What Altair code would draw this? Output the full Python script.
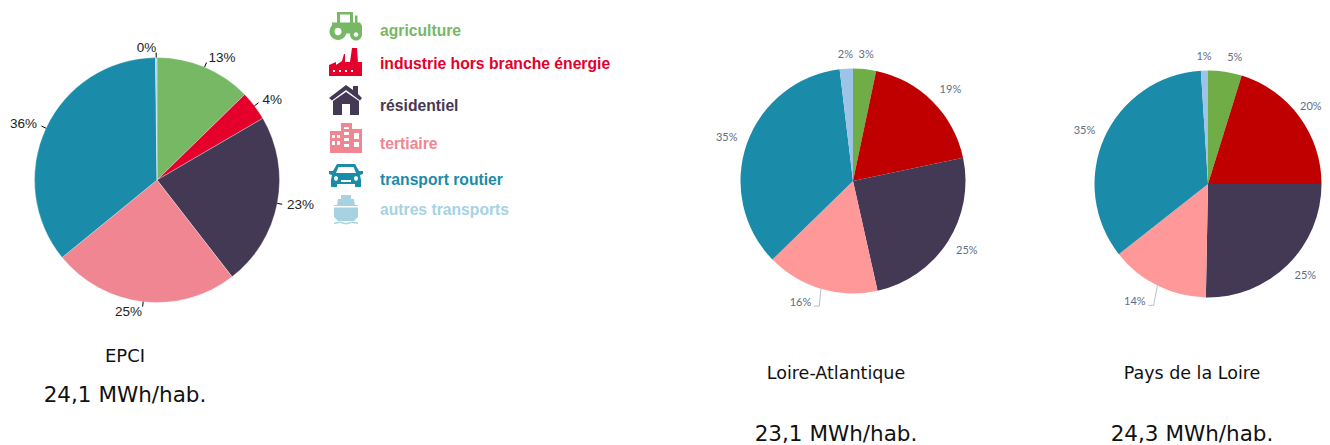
import math
import altair as alt
import pandas as pd

# ---------- data ----------
SECTORS = ["agriculture", "industrie hors branche énergie", "résidentiel",
           "tertiaire", "transport routier", "autres transports"]
EPCI_VALUES = [12.7, 3.9, 22.9, 24.6, 35.7, 0.2]
LA_VALUES = [3.3, 18.4, 24.8, 16.2, 35.4, 1.9]
PDL_VALUES = [4.8, 20.2, 25.3, 14.1, 34.6, 1.0]
EPCI_LABELS = ["13%", "4%", "23%", "25%", "36%", "0%"]
LA_LABELS = ["3%", "19%", "25%", "16%", "35%", "2%"]
PDL_LABELS = ["5%", "20%", "25%", "14%", "35%", "1%"]
EPCI_COLORS = ["#77b865", "#e4002b", "#443955", "#f08692", "#1a8ca9", "#a6d2e2"]
REGION_COLORS = ["#70ad47", "#c00000", "#443955", "#ff9999", "#1a8ca9", "#9dc3e6"]
CAPTION_NAMES = ["EPCI", "Loire-Atlantique", "Pays de la Loire"]
CAPTION_VALUES = ["24,1 MWh/hab.", "23,1 MWh/hab.", "24,3 MWh/hab."]

# ---------- layout (page pixels) ----------
W, H = 1314, 437
SX = alt.Scale(domain=[8, 8 + W], range=[0, W], nice=False, zero=False)
SY = alt.Scale(domain=[8, 8 + H], range=[0, H], nice=False, zero=False)
THETA = alt.Scale(domain=[0, 100], range=[0, 2 * math.pi])
X = lambda f: alt.X(f, type="quantitative", scale=SX, axis=None)
Y = lambda f: alt.Y(f, type="quantitative", scale=SY, axis=None)

PIES = [
    dict(v=EPCI_VALUES, l=EPCI_LABELS, c=EPCI_COLORS, cx=157, cy=180, r=122.5,
         kind="epci", elbow=0, shift=0),
    dict(v=LA_VALUES, l=LA_LABELS, c=REGION_COLORS, cx=853, cy=181, r=112.5,
         kind="region", elbow=18, shift=3.5),
    dict(v=PDL_VALUES, l=PDL_LABELS, c=REGION_COLORS, cx=1208, cy=184, r=113.5,
         kind="region", elbow=22, shift=6),
]
CAPTION_X = [125, 836, 1192]
NAME_Y = [357, 374, 374]
VALUE_Y = [396, 435, 435]
NAME_SIZE = [18, 17.5, 17.5]
VALUE_SIZE = 21.5
LEGEND_TEXT_X = 380
LEGEND_SIZE = 15.7
LEGEND_Y = [31, 64, 106, 144, 180, 210]
ICON_BOX = 34
ICON_TOPLEFT = [(329, 8.5), (329, 45), (329, 83), (329, 121), (329, 158), (329, 193)]
RIGHT_EDGE = 1322  # the canvas stops here: labels are kept inside it


def P(*pts):
    s = ""
    for i, (x, y) in enumerate(pts):
        s += f"{'M' if i == 0 else 'L'}{(x - 17) / 17:.3f},{(y - 17) / 17:.3f}"
    return s + "Z"


def R(x0, y0, x1, y1):
    return P((x0, y0), (x1, y0), (x1, y1), (x0, y1))


def C(cx, cy, r):
    a = r / 17
    x, y = (cx - 17) / 17, (cy - 17) / 17
    return (f"M{x - a:.3f},{y:.3f}A{a:.3f},{a:.3f} 0 1,0 {x + a:.3f},{y:.3f}"
            f"A{a:.3f},{a:.3f} 0 1,0 {x - a:.3f},{y:.3f}Z")


WHITE = "#ffffff"
ICONS = [
    [  # tractor
        (0, R(8, 3.5, 24, 6) + R(8, 3.5, 11, 15) + R(21, 3.5, 24, 15) + R(26, 7, 28.5, 15)),
        (0, P((3, 14), (31, 14), (33, 17), (33, 25), (3, 25))),
        (0, C(9, 23, 8.5)),
        (0, C(27, 26, 6)),
        (1, C(9, 23, 3.5)),
        (1, C(27, 26, 2.3)),
    ],
    [  # factory
        (0, P((0, 31), (0, 20), (7, 17), (7, 20), (13, 16), (15, 9), (16, 9), (16, 17),
              (21, 17), (23, 3), (28, 3), (29, 17), (33, 17), (33, 31))),
        (1, R(4, 25, 6, 27) + R(10, 25, 12, 27) + R(16, 25, 18, 27) + R(22, 25, 24, 27)),
    ],
    [  # house
        (0, P((0, 15), (17, 2), (24, 7), (24, 3), (29, 3), (29, 11), (33, 15),
              (31, 17.5), (17, 7), (3, 17.5))),
        (0, P((4, 18), (17, 9), (30, 18), (30, 32), (4, 32))),
        (1, R(13, 21, 21, 32)),
    ],
    [  # buildings
        (0, R(1, 10, 13, 32) + R(12, 2, 23, 32) + R(22, 8, 33, 32)),
        (1, R(3, 14, 6, 17) + R(8, 14, 11, 17) + R(3, 20, 6, 24) + R(8, 20, 11, 24)),
        (1, R(15, 6, 20, 8) + R(15, 11, 20, 14) + R(15, 17, 20, 20) + R(15, 23, 20, 26)),
        (1, R(25, 12, 30, 18) + R(25, 21, 30, 26)),
    ],
    [  # car
        (0, P((8, 6), (26, 6), (30, 13), (34, 13), (34, 16), (31, 17), (32, 22), (32, 29),
              (26, 29), (26, 26), (8, 26), (8, 29), (2, 29), (2, 22), (3, 17), (0, 16), (0, 13), (4, 13))),
        (1, P((9.5, 9), (24.5, 9), (27, 15), (7, 15))),
        (1, C(7, 20.5, 2) + R(12, 22, 22, 24)),
        (1, C(27, 20.5, 2)),
    ],
    [  # ship
        (0, R(12, 2, 22, 6) + P((9, 6), (25, 6), (26, 13), (8, 13))),
        (0, P((5, 12), (29, 12), (29, 24), (25, 28), (9, 28), (5, 24))),
        (1, R(5, 13, 29, 14.5)),
        (0, P((5, 29.5), (11, 28.5), (17, 30), (23, 28.5), (29, 29.5), (29, 31), (23, 30), (17, 31.5), (11, 30), (5, 31))),
    ],
]

LATERAL = "#626d86"
LEADER = "#b4bfd2"

# ---------- tables ----------
arc_layers, tick_rows, label_rows = [], [], []
for pie in PIES:
    rows = [dict(o=i, v=v, color=pie["c"][i]) for i, v in enumerate(pie["v"])]
    seam = 0.3 if pie["kind"] == "epci" else 0
    arc_layers.append(
        alt.Chart(pd.DataFrame(rows))
        .mark_arc(radius=pie["r"], stroke="#ffffff", strokeWidth=seam)
        .encode(
            theta=alt.Theta("v:Q", stack=True, scale=THETA),
            order=alt.Order("o:Q"),
            color=alt.Color("color:N", scale=None),
            x=alt.value(pie["cx"] - 8),
            y=alt.value(pie["cy"] - 8),
        )
    )
    cum = 0
    for i, v in enumerate(pie["v"]):
        mid = math.radians((cum + v / 2) * 3.6)
        cum += v
        s, c = math.sin(mid), math.cos(mid)
        cx, cy, r = pie["cx"], pie["cy"], pie["r"]
        if pie["kind"] == "epci":
            tick_rows.append(dict(x=cx + r * s, y=cy - r * c, x2=cx + (r + 5) * s,
                                  y2=cy - (r + 5) * c, color="#000000"))
            d = r + 10
            align = "left" if s > 0 else "right"
            label_rows.append(dict(x=cx + d * s, y=cy - d * c, t=pie["l"][i], align=align,
                                   font="Liberation Sans", size=13.5, color="#222222"))
        else:
            if i == 3:  # tertiary label hangs on an elbow leader
                ex = cx + (r + pie["elbow"]) * s + pie["shift"]
                ey = cy - (r + pie["elbow"]) * c
                tick_rows.append(dict(x=cx + r * s, y=cy - r * c, x2=ex, y2=ey, color=LEADER))
                tick_rows.append(dict(x=ex, y=ey, x2=ex - 5.5, y2=ey, color=LEADER))
                label_rows.append(dict(x=ex - 8, y=ey - 3, t=pie["l"][i], align="right",
                                       font="Lato", size=11, color=LATERAL))
            else:
                top = abs(s) < 0.3
                dx, dy = (r + 14, r + 14) if top else (r + 10, r + 16)
                align = "center" if abs(s) < 0.12 else ("left" if s > 0 else "right")
                lx = cx + dx * s
                if align == "left" and lx + 22 > RIGHT_EDGE:
                    lx = RIGHT_EDGE - 22
                label_rows.append(dict(x=lx, y=cy - dy * c, t=pie["l"][i], align=align,
                                       font="Lato", size=11, color=LATERAL))

icon_rows = []
for k, parts in enumerate(ICONS):
    x0, y0 = ICON_TOPLEFT[k]
    for shade, path in parts:
        icon_rows.append(dict(x=x0 + ICON_BOX / 2, y=y0 + ICON_BOX / 2, path=path,
                              color=WHITE if shade else EPCI_COLORS[k]))

legend_rows = [dict(x=LEGEND_TEXT_X, y=LEGEND_Y[i], t=s, color=EPCI_COLORS[i]) for i, s in enumerate(SECTORS)]
caption_rows = []
for i in range(3):
    caption_rows.append(dict(x=CAPTION_X[i], y=NAME_Y[i], t=CAPTION_NAMES[i], size=NAME_SIZE[i]))
    caption_rows.append(dict(x=CAPTION_X[i], y=VALUE_Y[i], t=CAPTION_VALUES[i], size=VALUE_SIZE))

# ---------- marks ----------
ticks = alt.Chart(pd.DataFrame(tick_rows)).mark_rule(strokeWidth=1).encode(
    x=X("x"), y=Y("y"), x2=alt.X2("x2"), y2=alt.Y2("y2"),
    color=alt.Color("color:N", scale=None))

label_layers = []
for (align, font, size), g in pd.DataFrame(label_rows).groupby(["align", "font", "size"]):
    label_layers.append(
        alt.Chart(g).mark_text(align=align, baseline="middle", font=font, fontSize=size).encode(
            x=X("x"), y=Y("y"), text="t:N", color=alt.Color("color:N", scale=None)))

icons = alt.Chart(pd.DataFrame(icon_rows)).mark_point(filled=True, opacity=1, strokeWidth=0).encode(
    x=X("x"), y=Y("y"),
    shape=alt.Shape("path:N", scale=None),
    size=alt.value(ICON_BOX ** 2),
    color=alt.Color("color:N", scale=None))

legend = alt.Chart(pd.DataFrame(legend_rows)).mark_text(
    align="left", baseline="middle", font="Liberation Sans", fontWeight="bold", fontSize=LEGEND_SIZE
).encode(x=X("x"), y=Y("y"), text="t:N", color=alt.Color("color:N", scale=None))

captions = alt.Chart(pd.DataFrame(caption_rows)).mark_text(
    align="center", baseline="middle", font="DejaVu Sans", color="#111111"
).encode(x=X("x"), y=Y("y"), text="t:N", size=alt.Size("size:Q", scale=None, legend=None))

chart = alt.layer(*arc_layers, ticks, *label_layers, icons, legend, captions).properties(
    width=W, height=H, padding=0,
    autosize=alt.AutoSizeParams(type="none"),
).configure_view(stroke=None).resolve_scale(color="independent")

chart.save("out.html", embed_options={"renderer": "svg", "actions": False})
